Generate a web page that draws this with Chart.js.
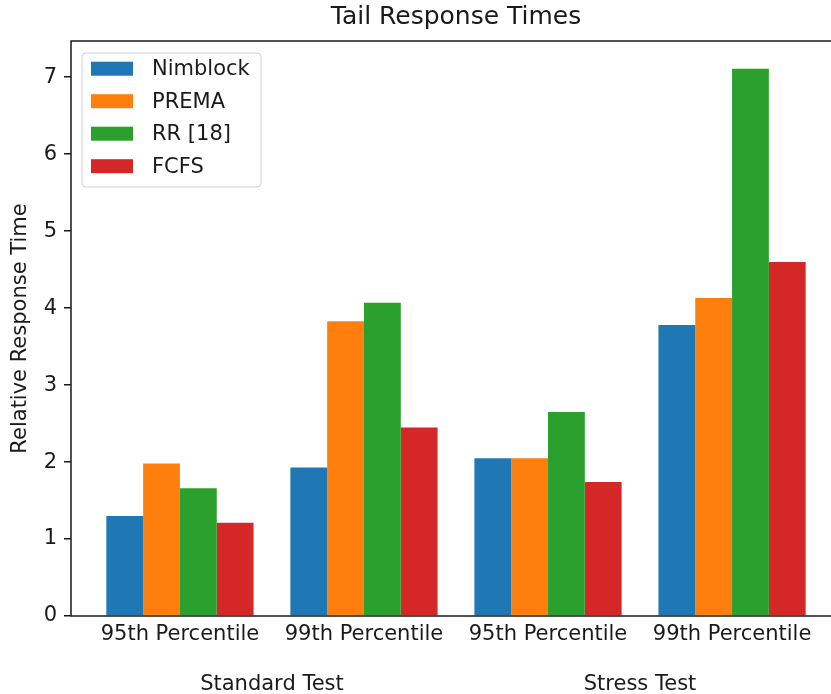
<!DOCTYPE html>
<html>
<head>
<meta charset="utf-8">
<title>Tail Response Times</title>
<script src="https://cdn.jsdelivr.net/npm/chart.js@4"></script>
<style>
  html, body { margin: 0; padding: 0; background: #fff; overflow: hidden; }
  #wrap { width: 860px; height: 694px; }
</style>
</head>
<body>
<div id="wrap"><canvas id="chart" width="860" height="694"></canvas></div>
<script>
// Tick labels along the x axis and the test group each pair belongs to
const categories = ['95th Percentile', '99th Percentile', '95th Percentile', '99th Percentile'];
const groups = ['Standard Test', 'Stress Test'];
const groupCenters = [0.5, 2.5];

// Relative response time per scheduler
const seriesNames = ['Nimblock', 'PREMA', 'RR [18]', 'FCFS'];
const nimblock = [1.30, 1.93, 2.05, 3.78];
const prema    = [1.98, 3.83, 2.05, 4.13];
const rr       = [1.66, 4.07, 2.65, 7.11];
const fcfs     = [1.21, 2.45, 1.74, 4.60];

const yTicks = [0, 1, 2, 3, 4, 5, 6, 7];

const colors = ['#1f77b4', '#ff7f0e', '#2ca02c', '#d62728'];
const FONT = "'DejaVu Sans', sans-serif";
const INK = '#1a1a1a';

const seriesValues = [nimblock, prema, rr, fcfs];
const datasets = seriesValues.map((vals, s) => ({
  label: seriesNames[s],
  data: vals.map((v, i) => ({ x: i, y: v })),
  backgroundColor: colors[s],
  borderWidth: 0,
  categoryPercentage: 0.8,
  barPercentage: 1.0
}));

// Axes frame (top, left, bottom), legend box and group captions
const decorations = {
  id: 'decorations',
  afterDatasetsDraw(chart) {
    const { ctx, chartArea: a, scales } = chart;
    ctx.save();
    ctx.strokeStyle = INK;
    ctx.lineWidth = 1.5;
    ctx.beginPath();
    ctx.moveTo(a.right, a.top);
    ctx.lineTo(a.left, a.top);
    ctx.lineTo(a.left, a.bottom);
    ctx.lineTo(a.right, a.bottom);
    ctx.stroke();

    // legend
    const lx = 82, ly = 53, lw = 179, lh = 134, r = 4;
    ctx.beginPath();
    ctx.moveTo(lx + r, ly);
    ctx.arcTo(lx + lw, ly, lx + lw, ly + lh, r);
    ctx.arcTo(lx + lw, ly + lh, lx, ly + lh, r);
    ctx.arcTo(lx, ly + lh, lx, ly, r);
    ctx.arcTo(lx, ly, lx + lw, ly, r);
    ctx.closePath();
    ctx.fillStyle = 'rgba(255,255,255,0.8)';
    ctx.fill();
    ctx.strokeStyle = '#d0d0d0';
    ctx.lineWidth = 1;
    ctx.stroke();

    ctx.font = `21px ${FONT}`;
    ctx.textBaseline = 'middle';
    ctx.textAlign = 'left';
    chart.data.datasets.forEach((ds, i) => {
      const cy = 68.7 + i * 32.5;
      ctx.fillStyle = ds.backgroundColor;
      ctx.fillRect(91, cy - 7, 42, 14);
      ctx.fillStyle = INK;
      ctx.fillText(ds.label, 152, cy + 1);
    });

    // group captions under the tick labels
    ctx.textAlign = 'center';
    ctx.textBaseline = 'alphabetic';
    groups.forEach((g, i) => {
      ctx.fillText(g, scales.x.getPixelForValue(groupCenters[i]), 690);
    });
    ctx.restore();
  }
};

new Chart(document.getElementById('chart'), {
  type: 'bar',
  data: { datasets },
  options: {
    responsive: false,
    devicePixelRatio: 1,
    animation: false,
    layout: { padding: { left: 0, right: 19, top: 0, bottom: 0 } },
    plugins: {
      legend: { display: false },
      tooltip: { enabled: false },
      title: {
        display: true,
        text: 'Tail Response Times',
        fullSize: false,
        color: INK,
        font: { family: FONT, size: 25, weight: 'normal' },
        padding: { top: 2, bottom: 9 }
      }
    },
    scales: {
      x: {
        type: 'linear',
        min: -0.592,
        max: 3.592,
        offset: false,
        grid: { display: false, drawTicks: false },
        border: { display: false },
        afterBuildTicks: (scale) => { scale.ticks = categories.map((_, i) => ({ value: i })); },
        afterFit: (scale) => { scale.height = 78; },
        ticks: {
          includeBounds: false,
          autoSkip: false,
          maxRotation: 0,
          padding: 6,
          color: INK,
          font: { family: FONT, size: 21 },
          callback: (v) => categories[v]
        }
      },
      y: {
        min: 0,
        max: 7.47,
        grid: { drawOnChartArea: false, drawTicks: true, tickLength: 7, color: INK, lineWidth: 1.5 },
        border: { display: false },
        afterBuildTicks: (scale) => { scale.ticks = yTicks.map(v => ({ value: v })); },
        afterFit: (scale) => { scale.width = 71; },
        ticks: {
          includeBounds: false,
          padding: 7,
          color: INK,
          font: { family: FONT, size: 21 }
        },
        title: {
          display: true,
          text: 'Relative Response Time',
          color: INK,
          font: { family: FONT, size: 21 },
          padding: { top: 8, bottom: 0 }
        }
      }
    }
  },
  plugins: [decorations]
});
</script>
</body>
</html>
